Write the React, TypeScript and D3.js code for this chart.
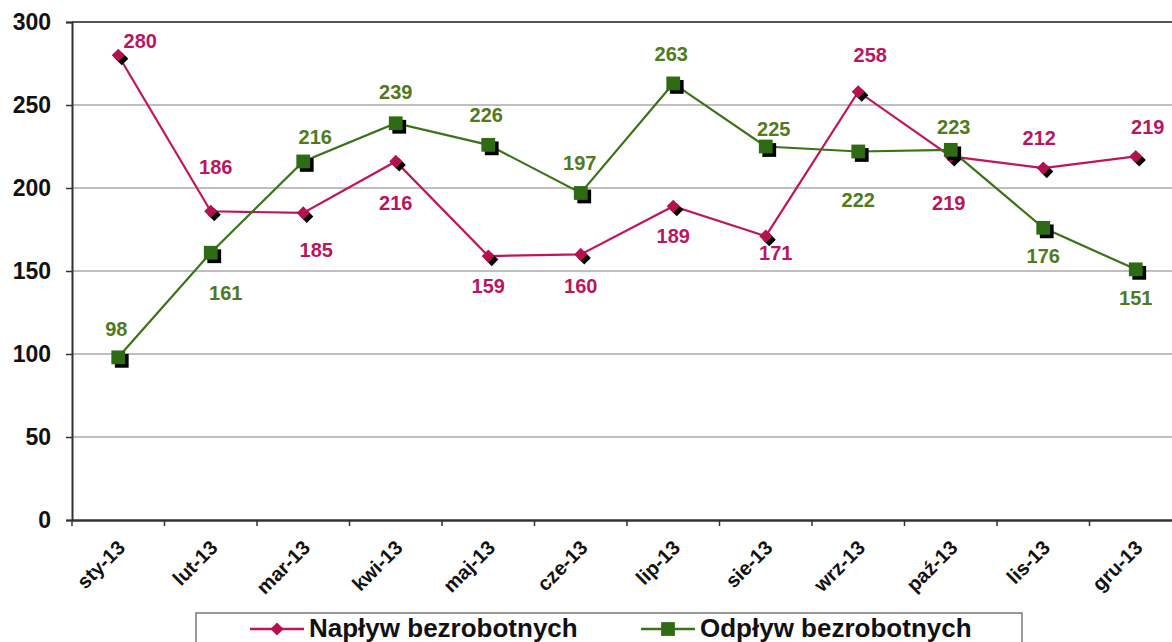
import React, { useEffect, useRef } from 'react';
import * as d3 from 'd3';

// dane
const months = ['sty-13', 'lut-13', 'mar-13', 'kwi-13', 'maj-13', 'cze-13', 'lip-13', 'sie-13', 'wrz-13', 'paź-13', 'lis-13', 'gru-13'];
const naplyw = [280, 186, 185, 216, 159, 160, 189, 171, 258, 219, 212, 219];
const odplyw = [98, 161, 216, 239, 226, 197, 263, 225, 222, 223, 176, 151];
const yTicks = [0, 50, 100, 150, 200, 250, 300];
const seriesNames = ['Napływ bezrobotnych', 'Odpływ bezrobotnych'];

// gdzie stoi etykieta wartosci wzgledem punktu (px)
const naplywLabelShift: [number, number][] = [[22, -14], [5, -44], [13, 37], [0, 41], [0, 30], [0, 31], [0, 30], [10, 17], [12, -37], [-2, 46], [-4, -30], [12, -30]];
const odplywLabelShift: [number, number][] = [[-2, -29], [15, 40], [12, -25], [0, -31], [-2, -30], [-1, -30], [-2, -30], [8, -18], [0, 48], [3, -23], [0, 28], [0, 28]];

const PINK = '#c0155c';
const PINK_TEXT = '#b8175f';
const GREEN = '#3a7318';
const GREEN_TEXT = '#4f7a1e';
const FONT = '"Liberation Sans", Arial, sans-serif';

const App = () => {
  const ref = useRef<SVGSVGElement>(null);

  useEffect(() => {
    const svg = d3.select(ref.current);
    svg.selectAll('*').remove();

    const left = 72;
    const step = 92.5;
    const x = d3.scaleBand<string>().domain(months).range([left, left + step * months.length]);
    const y = d3.scaleLinear().domain([0, 300]).range([520, 22]);
    const cx = (m: string) => (x(m) as number) + x.bandwidth() / 2;

    // siatka
    svg.append('g')
      .selectAll('line')
      .data(yTicks.filter(t => t > 0 && t < 300))
      .enter().append('line')
      .attr('x1', left).attr('x2', 1172)
      .attr('y1', d => y(d)).attr('y2', d => y(d))
      .attr('stroke', '#808080').attr('stroke-width', 1.2);

    svg.append('line')
      .attr('x1', left).attr('x2', 1172)
      .attr('y1', y(300)).attr('y2', y(300))
      .attr('stroke', '#555').attr('stroke-width', 2);

    // os Y
    const yAxis = svg.append('g')
      .attr('transform', `translate(${left},0)`)
      .call(d3.axisLeft(y).tickValues(yTicks).tickSize(6).tickPadding(15));
    yAxis.select('.domain').attr('stroke', '#333').attr('stroke-width', 2);
    yAxis.selectAll('.tick line').attr('stroke', '#333').attr('stroke-width', 1.5);
    yAxis.selectAll('.tick text')
      .attr('font-family', FONT).attr('font-weight', 'bold').attr('font-size', 23).attr('fill', '#111');

    // os X
    const xAxis = svg.append('g')
      .attr('transform', `translate(0,${y(0)})`)
      .call(d3.axisBottom(x).tickSize(0).tickFormat(() => ''));
    xAxis.select('.domain').attr('stroke', '#333').attr('stroke-width', 2.5);
    xAxis.selectAll('.tick').remove();

    svg.append('g')
      .selectAll('line')
      .data(months)
      .enter().append('line')
      .attr('x1', d => x(d) as number).attr('x2', d => x(d) as number)
      .attr('y1', y(0)).attr('y2', y(0) + 6)
      .attr('stroke', '#333').attr('stroke-width', 1.5);

    svg.append('g')
      .selectAll('text')
      .data(months)
      .enter().append('text')
      .attr('transform', d => `translate(${cx(d) + 8},${y(0) + 29}) rotate(-45)`)
      .attr('text-anchor', 'end')
      .attr('font-family', FONT).attr('font-weight', 'bold').attr('font-size', 20)
      .attr('fill', '#111')
      .text(d => d);

    const line = d3.line<number>().x((_, i) => cx(months[i])).y(d => y(d));

    // Napływ
    svg.append('path').datum(naplyw)
      .attr('d', line).attr('fill', 'none').attr('stroke', PINK).attr('stroke-width', 2.2);
    // Odpływ
    svg.append('path').datum(odplyw)
      .attr('d', line).attr('fill', 'none').attr('stroke', GREEN).attr('stroke-width', 2.2);

    const diamond = d3.symbol().type(d3.symbolDiamond2).size(110);
    const square = d3.symbol().type(d3.symbolSquare).size(190);

    const drawMarkers = (vals: number[], shape: any, fill: string) => {
      const g = svg.append('g');
      g.selectAll('.shadow').data(vals).enter().append('path')
        .attr('class', 'shadow')
        .attr('d', shape)
        .attr('transform', (d, i) => `translate(${cx(months[i]) + 3.5},${y(d) + 3.5})`)
        .attr('fill', '#000');
      g.selectAll('.mark').data(vals).enter().append('path')
        .attr('class', 'mark')
        .attr('d', shape)
        .attr('transform', (d, i) => `translate(${cx(months[i])},${y(d)})`)
        .attr('fill', fill);
    };
    drawMarkers(naplyw, diamond, '#b3124f');
    drawMarkers(odplyw, square, '#2f6b14');

    const drawLabels = (vals: number[], shift: [number, number][], color: string) => {
      svg.append('g').selectAll('text').data(vals).enter().append('text')
        .attr('x', (d, i) => cx(months[i]) + shift[i][0])
        .attr('y', (d, i) => y(d) + shift[i][1])
        .attr('dy', '0.36em')
        .attr('text-anchor', 'middle')
        .attr('font-family', FONT).attr('font-weight', 'bold').attr('font-size', 20)
        .attr('fill', color)
        .text(d => d);
    };
    drawLabels(naplyw, naplywLabelShift, PINK_TEXT);
    drawLabels(odplyw, odplywLabelShift, GREEN_TEXT);

    // legenda
    const lg = svg.append('g');
    lg.append('rect')
      .attr('x', 196).attr('y', 613).attr('width', 826).attr('height', 50)
      .attr('fill', '#fff').attr('stroke', '#777').attr('stroke-width', 1.5);

    const items = [
      { name: seriesNames[0], color: PINK, fill: '#b3124f', shape: diamond, x0: 250 },
      { name: seriesNames[1], color: GREEN, fill: '#2f6b14', shape: square, x0: 641 },
    ];
    items.forEach(it => {
      lg.append('line')
        .attr('x1', it.x0).attr('x2', it.x0 + 54)
        .attr('y1', 629).attr('y2', 629)
        .attr('stroke', it.color).attr('stroke-width', 2.5);
      lg.append('path')
        .attr('d', it.shape)
        .attr('transform', `translate(${it.x0 + 27},629)`)
        .attr('fill', it.fill);
      lg.append('text')
        .attr('x', it.x0 + 59).attr('y', 637)
        .attr('font-family', FONT).attr('font-weight', 'bold').attr('font-size', 26)
        .attr('fill', '#111')
        .text(it.name);
    });
  }, []);

  return (
    <svg
      ref={ref}
      width={1172}
      height={642}
      style={{ position: 'absolute', left: 0, top: 0, background: '#fff' }}
    />
  );
};

export default App;
